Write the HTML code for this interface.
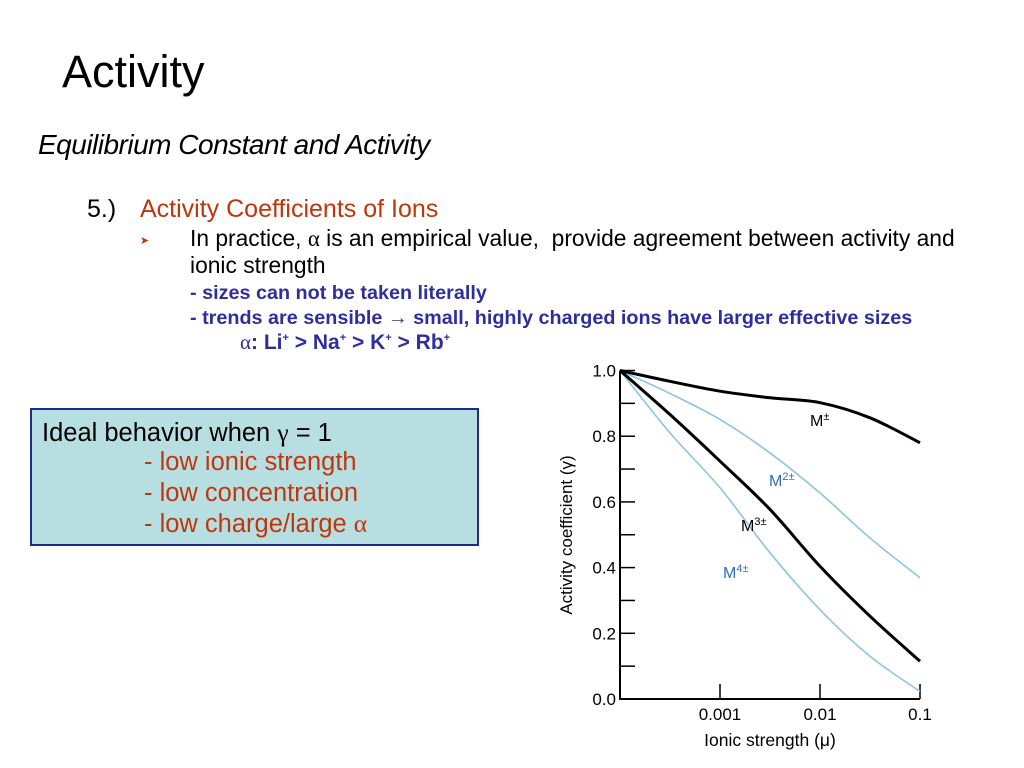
<!DOCTYPE html>
<html><head><meta charset="utf-8"><style>
body{margin:0;width:1024px;height:768px;background:#fff;position:relative;overflow:hidden;font-family:"Liberation Sans",sans-serif}
.t{position:absolute;white-space:nowrap}
</style></head><body>
<div class="t" style="left:62px;top:46px;font-size:45px;color:#000">Activity</div>
<div class="t" style="left:38px;top:129px;font-size:28px;font-style:italic;color:#000;letter-spacing:-0.5px">Equilibrium Constant and Activity</div>
<div class="t" style="left:87px;top:195px;font-size:25px;color:#000">5.)</div>
<div class="t" style="left:140px;top:195px;font-size:25px;color:#c0360c">Activity Coefficients of Ions</div>
<div class="t" style="left:140px;top:234px;font-size:11px;color:#c0360c">&#10148;</div>
<div class="t" style="left:190px;top:225px;font-size:22.8px;line-height:27px;color:#000">In practice, <span style="font-family:'Liberation Serif',serif">&alpha;</span> is an empirical value,&nbsp; provide agreement between activity and<br>ionic strength</div>
<div class="t" style="left:190px;top:282px;font-size:19.8px;font-weight:bold;color:#2e2e9e">- sizes can not be taken literally</div>
<div class="t" style="left:190px;top:307px;font-size:19.8px;font-weight:bold;color:#2e2e9e">- trends are sensible &#8594; small, highly charged ions have larger effective sizes</div>
<div class="t" style="left:240px;top:330px;font-size:21px;font-weight:bold;color:#2e2e9e"><span style="font-family:'Liberation Serif',serif;font-weight:normal">&alpha;</span>: Li<sup style="font-size:11px">+</sup> &gt; Na<sup style="font-size:11px">+</sup> &gt; K<sup style="font-size:11px">+</sup> &gt; Rb<sup style="font-size:11px">+</sup></div>

<div style="position:absolute;left:30px;top:408px;width:445px;height:134px;background:#b7dfe2;border:2px solid #1e2a8e">
<div class="t" style="left:10px;top:8px;font-size:25.5px;color:#000">Ideal behavior when <span style="font-family:'Liberation Serif',serif">&gamma;</span> = 1</div>
<div class="t" style="left:112px;top:38px;font-size:25.5px;color:#c0360c">- low ionic strength</div>
<div class="t" style="left:112px;top:69px;font-size:25.5px;color:#c0360c">- low concentration</div>
<div class="t" style="left:112px;top:99px;font-size:25.5px;color:#c0360c">- low charge/large <span style="font-family:'Liberation Serif',serif">&alpha;</span></div>
</div>

<svg id="chart" width="1024" height="768" style="position:absolute;left:0;top:0" xmlns="http://www.w3.org/2000/svg"></svg>
<script>
const logX = [-4, -3.5, -3, -2.5, -2, -1.5, -1];
const mPlus = [1.0, 0.967, 0.937, 0.917, 0.902, 0.856, 0.78];
const m2 = [1.0, 0.93, 0.851, 0.749, 0.627, 0.49, 0.369];
const m3 = [1.0, 0.866, 0.724, 0.577, 0.404, 0.252, 0.115];
const m4 = [1.0, 0.81, 0.643, 0.445, 0.272, 0.13, 0.023];
const yTicks = ["0.0","0.2","0.4","0.6","0.8","1.0"];
const xTickVals = [-3, -2, -1];
const xTickLabels = ["0.001","0.01","0.1"];
const svg = document.getElementById('chart');
const NS = 'http://www.w3.org/2000/svg';
function X(l){return 620 + (l + 4) * 100;}
function Y(v){return 699 - v * 328.5;}
function mk(tag, attrs){const e=document.createElementNS(NS,tag);for(const k in attrs)e.setAttribute(k,attrs[k]);svg.appendChild(e);return e;}
const ax = mk('path',{d:`M${X(-4)} ${Y(1.0)} V${Y(0)} H${X(-1)}`,stroke:'#000','stroke-width':2,fill:'none'});


for(let i=1;i<=10;i++){
  const v=i/10;
  const tk=mk('line',{x1:X(-4),x2:X(-4)+15,y1:Y(v),y2:Y(v),stroke:'#000','stroke-width':1.5});
  
  
}
yTicks.forEach((s)=>{
  const t=mk('text',{x:X(-4)-4,y:Y(parseFloat(s))+6,'font-size':17,'text-anchor':'end','font-family':'Liberation Sans, sans-serif'});
  t.textContent=s;
  
  
});
xTickVals.forEach((v,i)=>{
  const tk=mk('line',{x1:X(v),x2:X(v),y1:Y(0),y2:Y(0)-15,stroke:'#000','stroke-width':1.5});
  
  
  const t=mk('text',{x:X(v),y:Y(0)+21,'font-size':17,'text-anchor':'middle','font-family':'Liberation Sans, sans-serif'});
  t.textContent=xTickLabels[i];
  
  
});
const xt=mk('text',{x:770,y:746,'font-size':17.5,'text-anchor':'middle','font-family':'Liberation Sans, sans-serif'});
xt.textContent='Ionic strength (\u03bc)';


const yt=mk('text',{x:0,y:0,'font-size':17,'text-anchor':'middle','font-family':'Liberation Sans, sans-serif',transform:'translate(572,535) rotate(-90)'});
yt.textContent='Activity coefficient (\u03b3)';


function curve(vals,color,w,name){
  const pts=logX.map((l,i)=>[X(l),Y(vals[i])]);
  let d=`M${pts[0][0]} ${pts[0][1]}`;
  for(let i=0;i<pts.length-1;i++){
    const p0=pts[i-1]||pts[i],p1=pts[i],p2=pts[i+1],p3=pts[i+2]||p2;
    d+=` C${p1[0]+(p2[0]-p0[0])/6} ${p1[1]+(p2[1]-p0[1])/6} ${p2[0]-(p3[0]-p1[0])/6} ${p2[1]-(p3[1]-p1[1])/6} ${p2[0]} ${p2[1]}`;
  }
  const p=mk('path',{d,stroke:color,'stroke-width':w,fill:'none'});
  
  
}
curve(m2,'#8ec3e6',1.6,'line-m2');
curve(m4,'#8ec3e6',1.6,'line-m4');
curve(mPlus,'#000',3,'line-m1');
curve(m3,'#000',3,'line-m3');
function lab(x,y,base,sup,color,name){
  const t=mk('text',{x,y,'font-size':16,fill:color,'font-family':'Liberation Sans, sans-serif'});
  t.innerHTML=base+`<tspan dy="-6" font-size="11">${sup}</tspan>`;
  
  
}
lab(810,426,'M','\u00b1','#000','label-m1');
lab(769,486,'M','2\u00b1','#2a6fc0','label-m2');
lab(741,531,'M','3\u00b1','#000','label-m3');
lab(723,578,'M','4\u00b1','#2a6fc0','label-m4');
</script>
</body></html>
